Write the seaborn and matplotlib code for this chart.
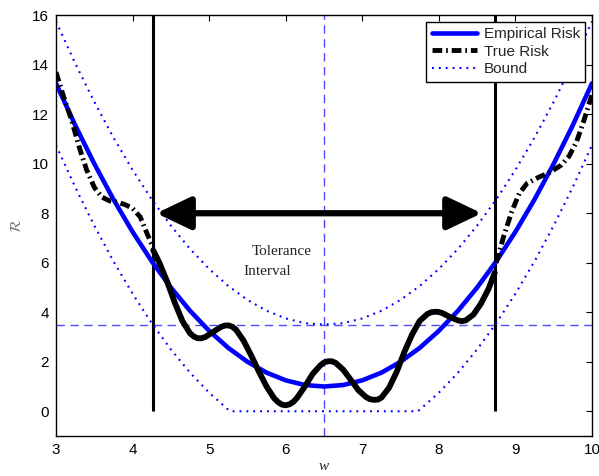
import numpy as np
import matplotlib
matplotlib.use("Agg")
import matplotlib.pyplot as plt
from matplotlib.lines import Line2D
import seaborn as sns

# empirical risk + bound (x step 0.25)
w_grid = [3.0, 3.25, 3.5, 3.75, 4.0, 4.25, 4.5, 4.75, 5.0, 5.25, 5.5, 5.75, 6.0, 6.25, 6.5,
          6.75, 7.0, 7.25, 7.5, 7.75, 8.0, 8.25, 8.5, 8.75, 9.0, 9.25, 9.5, 9.75, 10.0]
emp_risk = [13.25, 11.56, 10.0, 8.56, 7.25, 6.06, 5.0, 4.06, 3.25, 2.56, 2.0, 1.56, 1.25, 1.06, 1.0,
            1.06, 1.25, 1.56, 2.0, 2.56, 3.25, 4.06, 5.0, 6.06, 7.25, 8.56, 10.0, 11.56, 13.25]
bound_up = [15.75, 14.06, 12.5, 11.06, 9.75, 8.56, 7.5, 6.56, 5.75, 5.06, 4.5, 4.06, 3.75, 3.56, 3.5,
            3.56, 3.75, 4.06, 4.5, 5.06, 5.75, 6.56, 7.5, 8.56, 9.75, 11.06, 12.5, 14.06, 15.75]
bound_lo_w = [3.0, 3.25, 3.5, 3.75, 4.0, 4.25, 4.5, 4.75, 5.0, 5.25, 5.28, 7.72, 7.75, 8.0, 8.25,
              8.5, 8.75, 9.0, 9.25, 9.5, 9.75, 10.0]
bound_lo = [10.75, 9.06, 7.5, 6.06, 4.75, 3.56, 2.5, 1.56, 0.75, 0.06, 0.0, 0.0, 0.06, 0.75, 1.56,
            2.5, 3.56, 4.75, 6.06, 7.5, 9.06, 10.75]

# true risk inside the tolerance interval (solid)
true_in_w = [4.27, 4.35, 4.45, 4.55, 4.65, 4.75, 4.8, 4.85, 4.9, 4.95, 5.05, 5.15, 5.2, 5.25, 5.3,
             5.35, 5.45, 5.55, 5.65, 5.75, 5.85, 5.9, 5.95, 6.0, 6.05, 6.1, 6.15, 6.25, 6.35,
             6.45, 6.5, 6.55, 6.6, 6.65, 6.75, 6.85, 6.95, 7.05, 7.1, 7.15, 7.2, 7.25, 7.35,
             7.45, 7.55, 7.65, 7.75, 7.85, 7.9, 7.95, 8.0, 8.05, 8.15, 8.25, 8.3, 8.35, 8.45,
             8.55, 8.65, 8.73]
true_in = [6.5, 6.0, 5.25, 4.4, 3.65, 3.15, 3.02, 2.95, 2.95, 3.0, 3.2, 3.4, 3.46, 3.47, 3.42,
           3.3, 2.85, 2.25, 1.6, 1.0, 0.52, 0.37, 0.27, 0.24, 0.28, 0.38, 0.55, 1.0, 1.5,
           1.85, 1.97, 2.02, 2.02, 1.96, 1.68, 1.27, 0.85, 0.57, 0.49, 0.46, 0.47, 0.55, 0.95,
           1.6, 2.4, 3.1, 3.65, 3.93, 4.0, 4.02, 4.01, 3.96, 3.8, 3.67, 3.64, 3.67, 3.9,
           4.35, 4.95, 5.6]

# true risk outside (dash-dot)
true_left_w = [3.0, 3.1, 3.2, 3.3, 3.4, 3.5, 3.6, 3.7, 3.8, 3.9, 4.0, 4.1, 4.2, 4.27]
true_left = [13.7, 12.7, 11.8, 10.7, 9.75, 9.05, 8.65, 8.5, 8.45, 8.35, 8.2, 7.85, 7.1, 6.6]
true_right_w = [8.75, 8.85, 8.95, 9.05, 9.15, 9.3, 9.45, 9.6, 9.7, 9.8, 9.9, 10.0]
true_right = [6.0, 7.1, 8.05, 8.8, 9.2, 9.45, 9.65, 9.95, 10.3, 10.9, 11.8, 12.8]

w_lo, w_hi = 4.27, 8.73
w_min, r_line = 6.5, 3.5
arrow_y = 8
arrow_from, arrow_to = 4.31, 8.56

sns.set_theme(style="white")
plt.rcParams['font.family'] = ['Liberation Sans', 'DejaVu Sans']

fig = plt.figure(figsize=(5.99, 4.76), dpi=100)
ax = fig.add_axes([0.0935, 0.084, 0.8948, 0.884])

dash_dot = (0, (2.0, 0.8, 0.35, 0.8))
blue_dots = (0, (0.9, 2.4))

# reference lines
ax.axvline(w_min, color='#4d4dff', lw=1.0, dashes=(6, 4))
ax.axhline(r_line, color='#4d4dff', lw=1.0, dashes=(6, 4))
ax.vlines([w_lo, w_hi], 0, 16, color='black', lw=2.2)

sns.lineplot(x=w_grid, y=bound_up, ax=ax, color='blue', lw=1.5, linestyle=blue_dots, estimator=None, sort=False)
sns.lineplot(x=bound_lo_w, y=bound_lo, ax=ax, color='blue', lw=1.5, linestyle=blue_dots, estimator=None, sort=False)
sns.lineplot(x=w_grid, y=emp_risk, ax=ax, color='blue', lw=3.3, estimator=None, sort=False)
sns.lineplot(x=true_in_w, y=true_in, ax=ax, color='black', lw=4.2, estimator=None, sort=False)
sns.lineplot(x=true_left_w, y=true_left, ax=ax, color='black', lw=3.5, linestyle=dash_dot, estimator=None, sort=False)
sns.lineplot(x=true_right_w, y=true_right, ax=ax, color='black', lw=3.5, linestyle=dash_dot, estimator=None, sort=False)

ax.annotate('', xy=(arrow_from, arrow_y), xytext=(arrow_to, arrow_y),
            arrowprops=dict(arrowstyle='<|-|>,head_length=1.05,head_width=0.5',
                            color='black', lw=4.5, shrinkA=0, shrinkB=0, mutation_scale=20))

ax.text(5.56, 6.45, 'Tolerance', family='Liberation Serif', fontsize=11, color='#222222', va='center')
ax.text(5.45, 5.65, 'Interval', family='Liberation Serif', fontsize=11, color='#222222', va='center')

ax.set_xlim(3, 10)
ax.set_ylim(-1, 16)
ax.set_xticks(range(3, 11))
ax.set_yticks(range(0, 17, 2))
ax.tick_params(direction='in', top=True, right=True, length=4, width=0.8,
               labelsize=11, colors='black', pad=5)
for s in ax.spines.values():
    s.set_color('black')
    s.set_linewidth(1.0)

ax.set_xlabel('w', family='Liberation Serif', style='italic', fontsize=11, labelpad=2)
ax.set_ylabel(r'$\mathcal{R}$', fontsize=11, labelpad=6, color='#777777')

handles = [Line2D([], [], color='blue', lw=3.3),
           Line2D([], [], color='black', lw=3.5, linestyle=dash_dot),
           Line2D([], [], color='blue', lw=1.5, linestyle=blue_dots)]
leg = ax.legend(handles, ['Empirical Risk', 'True Risk', 'Bound'], loc='upper right',
                fontsize=11, frameon=True, fancybox=False, handlelength=3.0,
                borderpad=0.35, labelspacing=0.22, handletextpad=0.4,
                borderaxespad=0.45, framealpha=1)
leg.get_frame().set_edgecolor('black')
leg.get_frame().set_linewidth(1.0)

fig.savefig('out.png', dpi=100)
